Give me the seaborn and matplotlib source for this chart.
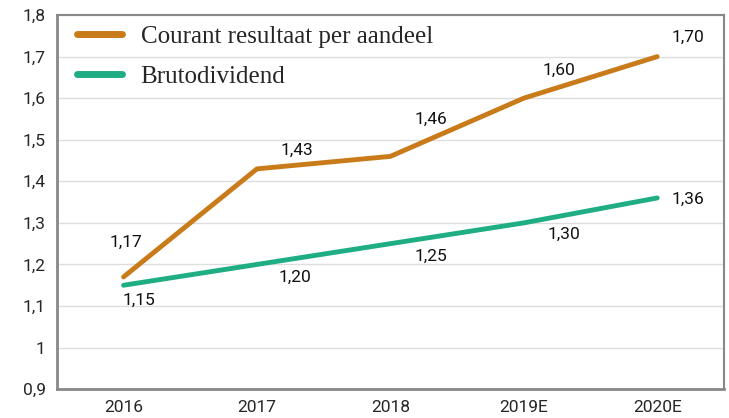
import matplotlib
matplotlib.use("Agg")
import matplotlib.pyplot as plt
import seaborn as sns
import pandas as pd

# ── Data ──────────────────────────────────────────────────────────────────────
YEARS     = ["2016", "2017", "2018", "2019E", "2020E"]
RESULTAAT = [1.17, 1.43, 1.46, 1.60, 1.70]
DIVIDEND  = [1.15, 1.20, 1.25, 1.30, 1.36]
Y_TICKS   = [0.9, 1.0, 1.1, 1.2, 1.3, 1.4, 1.5, 1.6, 1.7, 1.8]
Y_LABELS  = ["0,9", "1", "1,1", "1,2", "1,3", "1,4", "1,5", "1,6", "1,7", "1,8"]

ORANGE = "#C97B1A"
GREEN  = "#1FAE84"
SANS   = ["Roboto", "DejaVu Sans"]
SERIF  = ["Liberation Serif", "DejaVu Serif"]

# offsets (points) for value labels
OFF_RES = [(2, 25), (29, 13), (29, 27), (25, 20), (22, 14)]
OFF_DIV = [(11, -11), (27, -9), (29, -9), (29, -8), (22, -1)]

sns.set_style("white")
plt.rcParams["font.family"] = SANS

df = pd.DataFrame({"jaar": YEARS, "Courant resultaat per aandeel": RESULTAAT,
                   "Brutodividend": DIVIDEND})
long = df.melt(id_vars="jaar", var_name="reeks", value_name="waarde")

fig = plt.figure(figsize=(7.29, 4.18), dpi=100)
ax = fig.add_axes([0.078, 0.069, 0.915, 0.895])

sns.lineplot(data=long, x="jaar", y="waarde", hue="reeks",
             palette={"Courant resultaat per aandeel": ORANGE, "Brutodividend": GREEN},
             linewidth=3.5, ax=ax, sort=False)

for i, y in enumerate(RESULTAAT):
    ax.annotate(f"{y:.2f}".replace(".", ","), (i, y), xytext=OFF_RES[i],
                textcoords="offset points", ha="center", va="center", fontsize=12.5,
                color="#111")
for i, y in enumerate(DIVIDEND):
    ax.annotate(f"{y:.2f}".replace(".", ","), (i, y), xytext=OFF_DIV[i],
                textcoords="offset points", ha="center", va="center", fontsize=12.5,
                color="#111")

ax.set_xlim(-0.5, 4.5)
ax.set_ylim(0.9, 1.8)
ax.set_yticks(Y_TICKS)
ax.set_yticklabels(Y_LABELS, fontsize=12.5)
ax.set_xticks(range(len(YEARS)))
ax.set_xticklabels(YEARS, fontsize=12.5)
ax.set_xticks([i - 0.5 for i in range(len(YEARS) + 1)], minor=True)
ax.tick_params(axis="x", which="major", length=0, pad=8)
ax.tick_params(axis="x", which="minor", length=6, width=1.5, color="#888")
ax.tick_params(axis="y", length=5, width=1.5, color="#888", pad=3)
ax.set_xlabel("")
ax.set_ylabel("")
ax.grid(axis="y", color="#dddddd", linewidth=1)

for side in ["left", "bottom", "top", "right"]:
    ax.spines[side].set_visible(True)
    ax.spines[side].set_color("#888888")
ax.spines["left"].set_linewidth(2)
ax.spines["bottom"].set_linewidth(2)
ax.spines["top"].set_linewidth(1.5)
ax.spines["right"].set_linewidth(1.5)

leg = ax.legend(loc="upper left", bbox_to_anchor=(0.0, 1.025), frameon=False,
                handlelength=1.8, labelspacing=0.7, borderaxespad=0.4,
                handletextpad=0.75, prop={"family": SERIF, "size": 18})
for line in leg.get_lines():
    line.set_linewidth(5)

fig.savefig("out.png", dpi=100)
